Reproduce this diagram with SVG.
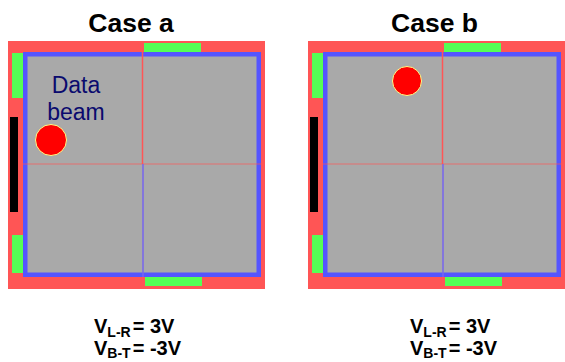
<svg xmlns="http://www.w3.org/2000/svg" width="565" height="362" viewBox="0 0 565 362">
<style>
.frame{fill:#FF5555}
.pad{fill:#55FF55}
.bar{fill:#000000}
.plate{fill:#A9A9A9;stroke:#5555FF;stroke-width:4.5}
.hline{stroke:#FF5555;stroke-opacity:0.45;stroke-width:1.5}
.vtop{stroke:#FF5555;stroke-width:1.5}
.vbot{stroke:#7766EE;stroke-width:1.5}
.beam{fill:#FF0000;stroke:#FFFF88;stroke-width:1}
.title{font-family:"Liberation Sans",Arial,sans-serif;font-weight:bold;font-size:26.5px;fill:#000;text-anchor:middle}
.lbl{font-family:"Liberation Sans",Arial,sans-serif;font-weight:bold;font-size:20px;fill:#000}
.sub{font-size:14px}
.note{font-family:"Liberation Sans",Arial,sans-serif;font-size:23px;fill:#0A0A6E;text-anchor:middle}
</style>
<defs>
<g id="panel">
<rect class="frame" x="8" y="41" width="257" height="248"/>
<rect class="pad" x="12" y="53" width="11" height="45"/>
<rect class="pad" x="12" y="235" width="11" height="38"/>
<rect class="bar" x="10" y="117" width="8" height="95"/>
<rect class="pad" x="144" y="43" width="57" height="9"/>
<rect class="pad" x="145" y="277" width="57" height="9"/>
<rect class="plate" x="25.25" y="54.25" width="233.5" height="220.5"/>
<line class="hline" x1="23" y1="164" x2="261" y2="164"/>
<line class="vtop" x1="142.5" y1="52" x2="142.5" y2="164"/>
<line class="vbot" x1="143" y1="164" x2="143" y2="277"/>
</g>
</defs>
<g id="case-a">
<text class="title" x="131" y="32">Case a</text>
<use href="#panel"/>
<circle class="beam" cx="51" cy="140" r="15.5"/>
<text class="note" x="76" y="93">Data</text>
<text class="note" x="76" y="120">beam</text>
<text class="lbl" x="94" y="333">V<tspan class="sub" dy="4">L-R</tspan><tspan dx="2" dy="-4">= 3V</tspan></text>
<text class="lbl" x="94" y="355">V<tspan class="sub" dy="3">B-T</tspan><tspan dx="2" dy="-3">= -3V</tspan></text>
</g>
<g id="case-b">
<text class="title" x="434.5" y="32">Case b</text>
<use href="#panel" transform="translate(300,0)"/>
<circle class="beam" cx="407" cy="81" r="14.5"/>
<text class="lbl" x="410" y="333">V<tspan class="sub" dy="4">L-R</tspan><tspan dx="2" dy="-4">= 3V</tspan></text>
<text class="lbl" x="410" y="355">V<tspan class="sub" dy="3">B-T</tspan><tspan dx="2" dy="-3">= -3V</tspan></text>
</g>
<g id="connectors"/>
</svg>
